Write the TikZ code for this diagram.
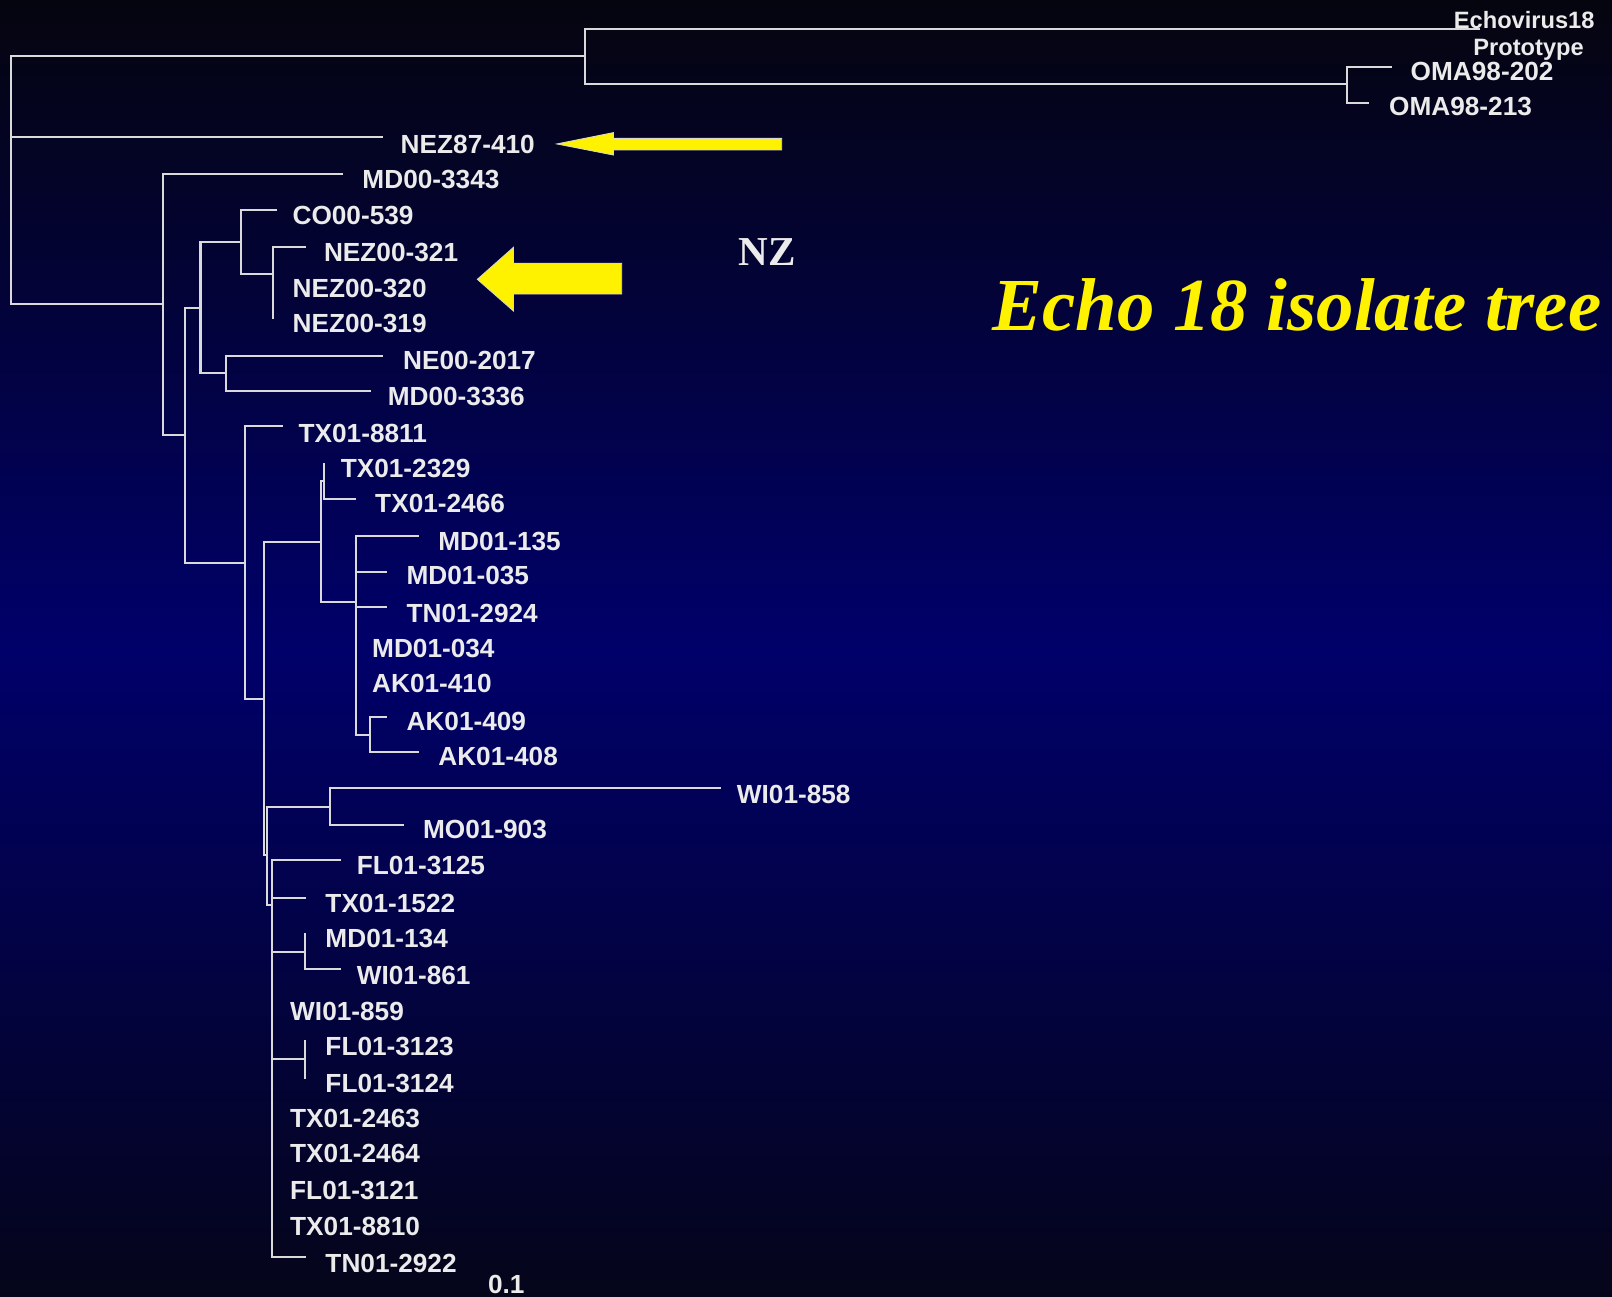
\documentclass[tikz,border=0pt]{standalone}
\usepackage{fontspec}
\setmainfont{Liberation Sans}
\newfontfamily\tmsfont{Liberation Serif}
\definecolor{bgtop}{HTML}{05050F}
\definecolor{bgmid}{HTML}{00006A}
\definecolor{bgbot}{HTML}{05051A}
\definecolor{linec}{HTML}{DADADA}
\definecolor{labc}{HTML}{EBEBEB}
\definecolor{arrowedge}{HTML}{D8D8C8}
\tikzset{
  branch/.style={draw=linec, line width=2pt, line cap=butt, line join=miter},
  lab/.style={text=labc, anchor=base west, inner sep=0pt, font=\bfseries\fontsize{25.5}{25.5}\selectfont},
  smalllab/.style={text=labc, anchor=base west, inner sep=0pt, font=\bfseries\fontsize{23}{23}\selectfont},
  yarrow/.style={fill=yellow, draw=arrowedge, line width=0.8pt, line join=miter},
}
\begin{document}
\begin{tikzpicture}[x=1pt, y=-1pt]
\useasboundingbox (0,0) rectangle (1568,1261);
\shade[top color=bgtop, bottom color=bgbot, middle color=bgmid] (0,0) rectangle (1568,1261);

% ---- internal nodes and tips of the tree ----
\coordinate (R) at (11,175);
\coordinate (A) at (569,54.5);
\coordinate (Echo) at (1440,28.5);
\coordinate (O) at (1310,82);
\coordinate (OMA202) at (1354,65);
\coordinate (OMA213) at (1332,100);
\coordinate (NEZ87) at (373,133.6);
\coordinate (B) at (158.8,295.7);
\coordinate (MD3343) at (333.5,169.6);
\coordinate (C) at (179.7,423);
\coordinate (D) at (195,300);
\coordinate (E) at (238.2,548);
\coordinate (F) at (234.3,235.7);
\coordinate (G) at (219.4,363);
\coordinate (CO539) at (269,204.3);
\coordinate (H) at (265.5,266.5);
\coordinate (NEZ321) at (297.8,240.6);
\coordinate (NEZ319) at (265.5,310.6);
\coordinate (NE2017) at (373,346);
\coordinate (MD3336) at (361,380);
\coordinate (TX8811) at (275.4,414.4);
\coordinate (I) at (256.8,680.3);
\coordinate (J) at (311.9,527.6);
\coordinate (K) at (259.4,831.7);
\coordinate (L) at (315.6,467.6);
\coordinate (M) at (346,585.3);
\coordinate (TX2329) at (315.6,450.7);
\coordinate (TX2466) at (346,485.4);
\coordinate (MD135) at (407.6,521.4);
\coordinate (MD035) at (376.7,556);
\coordinate (TN2924) at (376.7,590.8);
\coordinate (N) at (360.3,715);
\coordinate (AK409) at (376.7,697.1);
\coordinate (AK408) at (407.6,731.8);
\coordinate (P) at (320.8,785.3);
\coordinate (Q) at (265,880.4);
\coordinate (WI858) at (701,766.8);
\coordinate (MO903) at (392.7,802.5);
\coordinate (FL3125) at (331.3,836.6);
\coordinate (TX1522) at (297.8,873.3);
\coordinate (S) at (296.6,925.8);
\coordinate (T) at (296.6,1030.5);
\coordinate (TN2922) at (297.8,1223.1);
\coordinate (MD134) at (296.6,907.3);
\coordinate (WI861) at (331.3,942.6);
\coordinate (FL3123) at (296.6,1011.7);
\coordinate (FL3124) at (296.6,1050);

% ---- branches ----
\draw[branch] (R) |- (A);
\draw[branch] (R) |- (NEZ87);
\draw[branch] (R) |- (B);
\draw[branch] (A) |- (Echo);
\draw[branch] (A) |- (O);
\draw[branch] (O) |- (OMA202);
\draw[branch] (O) |- (OMA213);
\draw[branch] (B) |- (MD3343);
\draw[branch] (B) |- (C);
\draw[branch] (C) |- (D);
\draw[branch] (C) |- (E);
\draw[branch] (D) |- (F);
\draw[branch] (D) |- (G);
\draw[branch] (F) |- (CO539);
\draw[branch] (F) |- (H);
\draw[branch] (H) |- (NEZ321);
\draw[branch] (H) |- (NEZ319);
\draw[branch] (G) |- (NE2017);
\draw[branch] (G) |- (MD3336);
\draw[branch] (E) |- (TX8811);
\draw[branch] (E) |- (I);
\draw[branch] (I) |- (J);
\draw[branch] (I) |- (K);
\draw[branch] (J) |- (L);
\draw[branch] (J) |- (M);
\draw[branch] (L) |- (TX2329);
\draw[branch] (L) |- (TX2466);
\draw[branch] (M) |- (MD135);
\draw[branch] (M) |- (MD035);
\draw[branch] (M) |- (TN2924);
\draw[branch] (M) |- (N);
\draw[branch] (N) |- (AK409);
\draw[branch] (N) |- (AK408);
\draw[branch] (K) |- (P);
\draw[branch] (K) |- (Q);
\draw[branch] (P) |- (WI858);
\draw[branch] (P) |- (MO903);
\draw[branch] (Q) |- (FL3125);
\draw[branch] (Q) |- (TX1522);
\draw[branch] (Q) |- (S);
\draw[branch] (Q) |- (T);
\draw[branch] (Q) |- (TN2922);
\draw[branch] (S) |- (MD134);
\draw[branch] (S) |- (WI861);
\draw[branch] (T) |- (FL3123);
\draw[branch] (T) |- (FL3124);

% ---- labels ----
\node[smalllab] (lEcho) at (1414,27.5) {Echovirus18};
\node[smalllab] (lProto) at (1433,54) {Prototype};
\node[lab] (lOMA202) at (1372,78) {OMA98-202};
\node[lab] (lOMA213) at (1351,112) {OMA98-213};
\node[lab] (lNEZ87) at (389.6,149) {NEZ87-410};
\node[lab] (lMD3343) at (352.4,183) {MD00-3343};
\node[lab] (lCO539) at (284.4,218) {CO00-539};
\node[lab] (lNEZ321) at (315,254) {NEZ00-321};
\node[lab] (lNEZ320) at (284.4,289) {NEZ00-320};
\node[lab] (lNEZ319) at (284.4,323.5) {NEZ00-319};
\node[lab] (lNE2017) at (392,359) {NE00-2017};
\node[lab] (lMD3336) at (377,394) {MD00-3336};
\node[lab] (lTX8811) at (290.3,430.5) {TX01-8811};
\node[lab] (lTX2329) at (331.3,464.6) {TX01-2329};
\node[lab] (lTX2466) at (364.8,498.6) {TX01-2466};
\node[lab] (lMD135) at (426.2,535) {MD01-135};
\node[lab] (lMD035) at (395.3,569) {MD01-035};
\node[lab] (lTN2924) at (395.3,605.6) {TN01-2924};
\node[lab] (lMD034) at (361.8,639.7) {MD01-034};
\node[lab] (lAK410) at (361.8,673.7) {AK01-410};
\node[lab] (lAK409) at (395.3,711) {AK01-409};
\node[lab] (lAK408) at (426.2,745) {AK01-408};
\node[lab] (lWI858) at (716.6,782) {WI01-858};
\node[lab] (lMO903) at (411.3,816) {MO01-903};
\node[lab] (lFL3125) at (346.9,850.5) {FL01-3125};
\node[lab] (lTX1522) at (316.4,887.1) {TX01-1522};
\node[lab] (lMD134) at (316.4,921.8) {MD01-134};
\node[lab] (lWI861) at (346.9,957.5) {WI01-861};
\node[lab] (lWI859) at (282.1,992.2) {WI01-859};
\node[lab] (lFL3123) at (316.4,1026.5) {FL01-3123};
\node[lab] (lFL3124) at (316.4,1062.9) {FL01-3124};
\node[lab] (lTX2463) at (282.1,1096.9) {TX01-2463};
\node[lab] (lTX2464) at (282.1,1131) {TX01-2464};
\node[lab] (lFL3121) at (282.1,1166.6) {FL01-3121};
\node[lab] (lTX8810) at (282.1,1201.6) {TX01-8810};
\node[lab] (lTN2922) at (316.4,1238) {TN01-2922};
\node[lab] (lscale) at (474.5,1258) {0.1};

% ---- NZ and title ----
\node[text=labc, anchor=base west, inner sep=0pt, font=\tmsfont\bfseries\fontsize{40}{40}\selectfont] (nz) at (718,258) {NZ};
\node[text=yellow, anchor=base west, inner sep=0pt, font=\tmsfont\bfseries\itshape\fontsize{72.8}{72.8}\selectfont] (title) at (965,321) {Echo 18 isolate tree};

% ---- arrows ----
\draw[yarrow] (541.5,140) -- (596.6,129) -- (596.6,134.6) -- (760.4,134.6) -- (760.4,145.9) -- (596.6,145.9) -- (596.6,150.8) -- cycle;
\draw[yarrow] (464.3,271.7) -- (499.4,240.6) -- (499.4,256.2) -- (604.7,256.2) -- (604.7,286) -- (499.4,286) -- (499.4,302.5) -- cycle;
\end{tikzpicture}
\end{document}
